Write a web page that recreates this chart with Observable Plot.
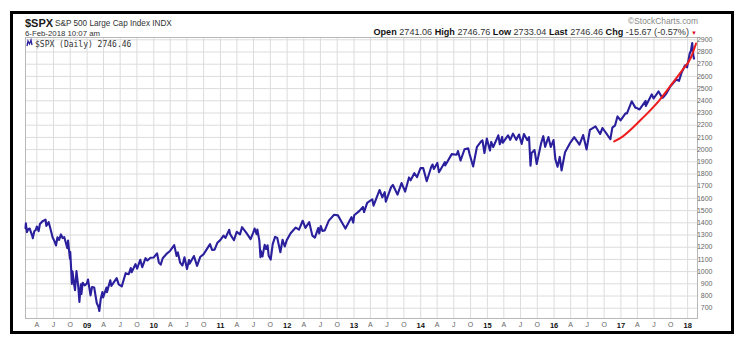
<!DOCTYPE html>
<html>
<head>
<meta charset="utf-8">
<script src="https://cdn.jsdelivr.net/npm/d3@7"></script>
<script src="https://cdn.jsdelivr.net/npm/@observablehq/plot@0.6"></script>
<style>
  html, body { margin: 0; padding: 0; background: #fff; }
  #wrap { position: relative; width: 743px; height: 347px; overflow: hidden; background: #fff; }
  #box { position: absolute; left: 10px; top: 11px; width: 718px; height: 317px; border: 3px solid #000; }
  #chart { position: absolute; left: 0; top: 0; }
  #hdr { position: absolute; left: 0; top: 0; pointer-events: none; }
</style>
</head>
<body>
<div id="wrap">
  <div id="box"></div>
  <div id="chart"></div>
  <svg id="hdr" width="743" height="347" xmlns="http://www.w3.org/2000/svg" font-family="Liberation Sans, Arial, sans-serif">
    <text x="25" y="27" font-size="11" font-weight="bold" fill="#1a1a1a">$SPX</text>
    <text x="55" y="25.5" font-size="8.2" fill="#333">S&amp;P 500 Large Cap Index  INDX</text>
    <text x="25" y="35.5" font-size="7.8" fill="#333">6-Feb-2018 10:07 am</text>
    <text x="698" y="24" font-size="8.4" fill="#888" text-anchor="end">©StockCharts.com</text>
    <text x="689" y="35" font-size="9.1" fill="#333" text-anchor="end"><tspan font-weight="bold" fill="#111">Open</tspan> 2741.06 <tspan font-weight="bold" fill="#111">High</tspan> 2746.76 <tspan font-weight="bold" fill="#111">Low</tspan> 2733.04 <tspan font-weight="bold" fill="#111">Last</tspan> 2746.46 <tspan font-weight="bold" fill="#111">Chg</tspan> -15.67 (-0.57%)</text>
    <text x="694" y="35" font-size="6" fill="#e0102a" text-anchor="middle">▼</text>
    <g>
      <rect x="26.5" y="40" width="6" height="6" fill="#fff"/>
      <polyline points="27,46 28,41 29.5,44 31,40 32,45" fill="none" stroke="#2a1f9c" stroke-width="1.3"/>
    </g>
    <text x="35" y="46.5" font-size="8" font-family="DejaVu Sans Mono, monospace" fill="#333">$SPX (Daily) 2746.46</text>
  </svg>
</div>
<script>
// ---- data: S&P 500 ($SPX) daily closes ----
const dates = [
"2008-01-30","2008-02-01","2008-02-07","2008-02-14","2008-02-22","2008-03-07","2008-03-10","2008-03-18","2008-03-26","2008-04-01",
"2008-04-11","2008-04-18","2008-05-02","2008-05-19","2008-05-23","2008-06-05","2008-06-13","2008-06-27","2008-07-03","2008-07-15",
"2008-07-23","2008-08-01","2008-08-11","2008-08-20","2008-08-29","2008-09-15","2008-09-19","2008-09-29","2008-10-01","2008-10-10",
"2008-10-13","2008-10-22","2008-10-27","2008-11-04","2008-11-14","2008-11-20","2008-11-28","2008-12-01","2008-12-08","2008-12-19",
"2008-12-31","2009-01-06","2009-01-20","2009-01-28","2009-02-09","2009-02-23","2009-03-04","2009-03-09","2009-03-17","2009-03-26",
"2009-03-30","2009-04-17","2009-04-20","2009-05-08","2009-05-14","2009-06-12","2009-06-23","2009-07-10","2009-07-31","2009-08-17",
"2009-08-28","2009-09-02","2009-09-23","2009-10-02","2009-10-19","2009-10-30","2009-11-17","2009-11-27","2009-12-14","2009-12-31",
"2010-01-19","2010-01-29","2010-02-08","2010-02-19","2010-03-15","2010-03-31","2010-04-23","2010-05-06","2010-05-13","2010-05-25",
"2010-06-07","2010-06-18","2010-07-02","2010-07-13","2010-07-16","2010-08-09","2010-08-26","2010-09-13","2010-09-30","2010-10-15",
"2010-11-05","2010-11-16","2010-11-30","2010-12-15","2010-12-31","2011-01-18","2011-01-28","2011-02-18","2011-02-23","2011-03-16",
"2011-03-31","2011-04-18","2011-04-29","2011-05-23","2011-06-15","2011-06-30","2011-07-07","2011-07-18","2011-07-22","2011-08-02",
"2011-08-08","2011-08-09","2011-08-19","2011-08-31","2011-09-08","2011-09-16","2011-09-22","2011-10-03","2011-10-14","2011-10-27",
"2011-11-08","2011-11-25","2011-12-07","2011-12-19","2011-12-30","2012-01-20","2012-02-17","2012-03-06","2012-03-26","2012-04-10",
"2012-05-01","2012-05-18","2012-06-01","2012-06-19","2012-06-25","2012-07-03","2012-07-12","2012-07-25","2012-08-16","2012-09-14",
"2012-10-05","2012-10-23","2012-11-15","2012-12-18","2012-12-28","2013-01-02","2013-01-31","2013-02-19","2013-02-25","2013-03-14",
"2013-04-11","2013-04-18","2013-05-21","2013-06-05","2013-06-18","2013-06-24","2013-07-23","2013-08-02","2013-08-27","2013-09-18",
"2013-10-08","2013-10-29","2013-11-07","2013-11-27","2013-12-12","2013-12-31","2014-01-15","2014-02-03","2014-02-28","2014-03-07",
"2014-03-14","2014-04-02","2014-04-11","2014-05-13","2014-05-15","2014-06-20","2014-07-17","2014-07-24","2014-08-07","2014-08-29",
"2014-09-18","2014-09-25","2014-10-15","2014-11-05","2014-11-28","2014-12-05","2014-12-16","2014-12-29","2015-01-15","2015-01-22",
"2015-02-02","2015-03-02","2015-03-10","2015-03-23","2015-03-26","2015-04-24","2015-05-06","2015-05-21","2015-06-08","2015-06-23",
"2015-07-08","2015-07-20","2015-08-07","2015-08-17","2015-08-25","2015-08-31","2015-09-16","2015-09-28","2015-10-22","2015-11-03",
"2015-11-13","2015-12-01","2015-12-14","2015-12-29","2016-01-08","2016-01-20","2016-02-01","2016-02-11","2016-03-01","2016-03-31",
"2016-04-20","2016-05-19","2016-06-08","2016-06-27","2016-07-15","2016-08-15","2016-09-09","2016-09-22","2016-10-13","2016-11-04",
"2016-11-15","2016-11-30","2016-12-13","2016-12-30","2017-01-26","2017-02-03","2017-03-01","2017-03-21","2017-03-27","2017-04-13",
"2017-05-16","2017-05-17","2017-06-19","2017-06-29","2017-07-26","2017-08-10","2017-08-18","2017-09-05","2017-09-29","2017-10-31",
"2017-11-15","2017-11-28","2017-12-18","2017-12-29","2018-01-12","2018-01-19","2018-01-26","2018-02-02","2018-02-05"
];
const closes = [
1355,1395,1324,1348,1353,1293,1273,1330,1341,1370,
1332,1390,1413,1426,1375,1405,1360,1278,1262,1214,
1282,1260,1305,1275,1283,1192,1255,1106,1161,899,
1003,896,848,1005,873,752,896,816,909,887,
903,935,805,874,870,743,712,677,778,832,
788,870,832,929,883,946,895,879,987,979,
1029,995,1061,1025,1097,1036,1110,1091,1114,1115,
1150,1074,1057,1109,1150,1169,1217,1128,1157,1074,
1050,1118,1022,1095,1065,1128,1047,1122,1141,1176,
1225,1178,1180,1236,1258,1295,1276,1343,1307,1257,
1326,1305,1364,1317,1266,1321,1353,1306,1345,1254,
1119,1172,1124,1219,1185,1216,1129,1099,1225,1285,
1276,1159,1261,1206,1258,1315,1361,1344,1417,1358,
1405,1295,1278,1357,1313,1374,1334,1338,1418,1466,
1461,1413,1353,1446,1402,1462,1498,1530,1488,1563,
1593,1541,1669,1609,1651,1573,1692,1710,1631,1726,
1656,1772,1748,1807,1775,1848,1848,1741,1859,1878,
1841,1891,1815,1897,1870,1963,1958,1988,1910,2003,
2011,1966,1862,2023,2068,2075,1972,2091,1992,2063,
2021,2117,2044,2104,2056,2117,2080,2131,2080,2124,
2047,2128,2078,2102,1868,1972,1996,1882,2052,2110,
2023,2103,2022,2078,1922,1859,1940,1829,1978,2060,
2102,2040,2119,2001,2162,2190,2128,2177,2133,2085,
2180,2199,2272,2239,2297,2297,2396,2344,2342,2329,
2400,2357,2453,2419,2477,2438,2425,2457,2519,2575,
2564,2627,2691,2674,2786,2810,2873,2762,2746
];
// red trend arc
const arcDates = ["2016-11-25","2017-01-10","2017-04-27","2017-07-29","2017-10-08","2017-12-01","2018-01-19","2018-02-16"];
const arcValues = [2067,2107,2255,2402,2541,2648,2755,2870];
// axis ticks and labels
const yTicks = [700,800,900,1000,1100,1200,1300,1400,1500,1600,1700,1800,1900,2000,2100,2200,2300,2400,2500,2600,2700,2800,2900];
const yearLabels = ["09","10","11","12","13","14","15","16","17","18"];
const monthLabels = {3: "A", 6: "J", 9: "O"};

const series = dates.map((d, i) => ({date: new Date(d), value: closes[i]}));
const arc = arcDates.map((d, i) => ({date: new Date(d), value: arcValues[i]}));
const quarterTicks = d3.utcMonth.every(3).range(new Date("2008-04-01"), new Date("2018-02-02"));
const yearTicks = quarterTicks.filter(d => d.getUTCMonth() === 0);
const monthTicks = quarterTicks.filter(d => d.getUTCMonth() !== 0);

const chart = Plot.plot({
  width: 743,
  height: 347,
  marginLeft: 25,
  marginRight: 46,
  marginTop: 37,
  marginBottom: 29,
  style: {background: "transparent", fontFamily: "Liberation Sans, Arial, sans-serif", overflow: "visible"},
  x: {type: "utc", domain: [new Date("2008-01-30"), new Date("2018-02-24")]},
  y: {domain: [615.6, 2918.9]},
  marks: [
    Plot.gridX(quarterTicks, {stroke: "#dcdcdc", strokeOpacity: 1}),
    Plot.gridY(yTicks, {stroke: "#dcdcdc", strokeOpacity: 1}),
    Plot.frame({stroke: "#b8b8b8"}),
    Plot.axisX(monthTicks, {tickSize: 0, tickPadding: 4, fontSize: 7, fill: "#666", label: null,
      tickFormat: d => monthLabels[d.getUTCMonth()]}),
    Plot.axisX(yearTicks, {tickSize: 0, tickPadding: 4, fontSize: 7.5, fontWeight: "bold", fill: "#111", label: null,
      tickFormat: d => yearLabels[d.getUTCFullYear() - 2009]}),
    Plot.axisY(yTicks, {anchor: "right", tickSize: 0, tickPadding: 15, textAnchor: "end", fontSize: 7, fill: "#666",
      label: null, tickFormat: d => String(d)}),
    Plot.line(series, {x: "date", y: "value", stroke: "#2a1f9c", strokeWidth: 2.1, strokeLinejoin: "round"}),
    Plot.line(arc, {x: "date", y: "value", stroke: "#ee1c1c", strokeWidth: 2, curve: "monotone-x"})
  ]
});
document.getElementById("chart").appendChild(chart);
</script>
</body>
</html>
